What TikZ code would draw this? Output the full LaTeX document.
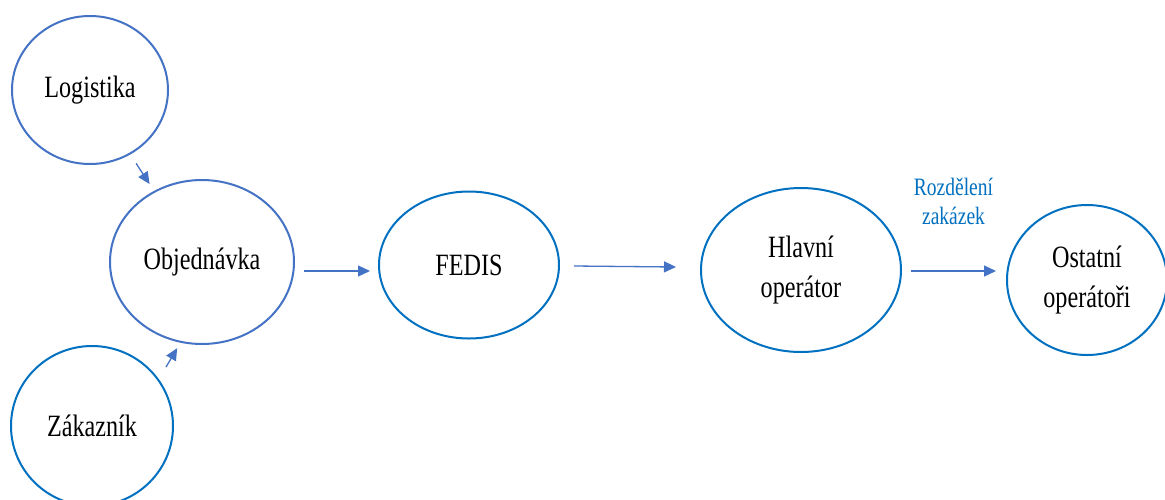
\documentclass[tikz,border=0pt]{standalone}
\usepackage{fontspec}
\setmainfont[FakeStretch=0.78]{Liberation Serif}
\usetikzlibrary{shapes.geometric,arrows.meta}
\definecolor{blueA}{HTML}{4472C4}
\definecolor{blueB}{HTML}{0070C0}
\tikzset{
  bub/.style={ellipse,draw,line width=2pt,inner sep=0pt,align=center,
    font=\fontsize{31}{40}\selectfont,text=black},
  arr/.style={draw=blueA,line width=1.3pt,-{Triangle[length=12pt,width=11pt]},color=blueA},
}
\begin{document}
\begin{tikzpicture}[x=1pt,y=-1pt]
\path[use as bounding box,fill=white] (0,0) rectangle (1165,499);
\node[bub,draw=blueA,minimum width=156pt,minimum height=148pt] (log) at (90,90) {Logistika};
\node[bub,draw=blueA,minimum width=184pt,minimum height=164pt] (obj) at (202,262) {Objednávka};
\node[bub,draw=blueB,minimum width=162pt,minimum height=160pt] (zak) at (92,426) {Zákazník};
\node[bub,draw=blueB,minimum width=180pt,minimum height=147pt] (fedis) at (469,265) {FEDIS};
\node[bub,draw=blueB,minimum width=200pt,minimum height=164pt] (hlav) at (801,270) {Hlavní\\operátor};
\node[bub,draw=blueB,minimum width=160pt,minimum height=150pt] (ost) at (1087,280) {Ostatní\\operátoři};
\draw[arr,shorten <=10.7pt,shorten >=8.2pt] (log.-58.7) -- (obj.124);
\draw[arr,shorten <=14pt,shorten >=6.3pt] (zak.35.5) -- (obj.-105.3);
\draw[arr] ([shift={(9,9)}]obj.east) -- ([shift={(-8,6)}]fedis.west);
\draw[arr] ([shift={(14,1)}]fedis.east) -- ([shift={(-24,-3)}]hlav.west);
\draw[arr] ([shift={(9,1)}]hlav.east) -- node[above=42pt,align=center,text=blueB,font=\fontsize{25}{29}\selectfont] (lbl) {Rozdělení\\zakázek} ([shift={(-10,-9)}]ost.west);
\end{tikzpicture}
\end{document}
